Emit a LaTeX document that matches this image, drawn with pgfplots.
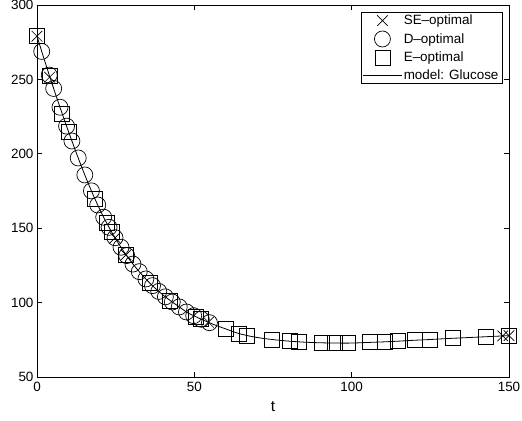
\documentclass[border=0pt]{standalone}
\usepackage{fontspec}
\setmainfont{Liberation Sans}
\usepackage{pgfplots}
\pgfplotsset{compat=1.18}
\begin{document}
\begin{tikzpicture}
\useasboundingbox (-37bp,-44bp) rectangle (485bp,377bp);
\begin{axis}[
  at={(0bp,0bp)}, anchor=south west,
  scale only axis, width=472bp, height=372bp,
  xmin=0, xmax=150, ymin=50, ymax=300,
  xtick={0,50,100,150}, ytick={50,100,150,200,250,300},
  xtick pos=both, ytick pos=both,
  tick align=inside, major tick length=5bp,
  axis line style={line width=0.8bp},
  every tick/.style={black, line width=0.6bp},
  tick label style={font=\fontsize{13.5}{15}\selectfont},
  xticklabel style={yshift=-1.5bp},
  /pgf/number format/assume math mode=true,
  xlabel={t}, xlabel style={font=\fontsize{15.5}{17}\selectfont, yshift=-3bp},
  clip=false,
  legend cell align=left,
  legend style={at={(rel axis cs:0.987,0.981)}, anchor=north east,
    font=\fontsize{13.5}{15}\selectfont, draw=black, line width=0.8bp,
    inner xsep=2bp, inner ysep=0.5bp, row sep=2.8bp},
  legend image code/.code={\draw[mark repeat=2,mark phase=2,line width=0.7bp,#1] plot coordinates {(0bp,0bp) (19bp,0bp) (38bp,0bp)};},
]
\addplot[only marks, mark=x, mark size=7.5bp, line width=0.7bp] coordinates {
(0,279) (4,251.5) (24.8,143.6) (28.3,132.1) (54.5,86.8) (148,77.6) (150,77.8)};
\addlegendentry{SE\textendash optimal}
\addplot[only marks, mark=o, mark size=8bp, line width=0.7bp] coordinates {
(1.5,268.8) (3.9,252.9) (5.3,243.9) (7.3,231.3) (9.4,218.6) (11.1,208.6)
(13.1,197.2) (15.2,185.8) (17.3,175.1) (19.3,165.6) (21.2,157.4) (22.9,150.6)
(24.8,143.6) (26.7,137.2) (28.5,131.6) (30.5,125.9) (32.5,120.8) (34.6,115.9)
(36.7,111.4) (38.7,107.5) (40.8,103.9) (43,100.4) (45.2,97.1) (47.5,93.7)
(49.8,91.2) (52.2,88.8) (54.8,86.5)};
\addlegendentry{D\textendash optimal}
\addplot[only marks, mark=square, mark size=7.5bp, line width=0.7bp] coordinates {
(0,279) (4,252.2) (8,227) (10,215) (18.4,169.8) (22.1,153.6) (23.7,147.5)
(28.3,132.1) (35.9,113) (42.3,101.5) (50.5,90.5) (52,89) (60.1,82.2)
(64.3,79.2) (66.8,77.9) (74.6,75.2) (80.5,74.0) (83.2,73.7) (90.5,73.0)
(94.7,72.8) (98.9,72.8) (105.8,73.3) (110.6,73.7) (114.8,74.1) (120.1,74.7)
(124.9,75.2) (132.1,76.0) (142.7,77.1) (150,77.8)};
\addlegendentry{E\textendash optimal}
\addplot[black, line width=0.8bp, smooth, tension=0.4] coordinates {
(0,279) (2,265.4) (4,252.2) (6,239.4) (8,227.0) (10,215.0) (12,203.4)
(14,192.2) (16,181.6) (18,171.6) (20,162.4) (22,154.0) (24,146.4) (26,139.4)
(28,133.0) (30,127.2) (32,122.0) (34,117.2) (36,112.8) (38,108.8) (40,105.2)
(42,101.9) (44,98.9) (46,95.9) (48,93.0) (50,91.0) (52,89.0) (54,87.2)
(56,85.4) (58,83.8) (60,82.3) (64,79.3) (68,77.3) (72,75.9) (76,74.9)
(80,74.1) (85,73.4) (90,73.0) (95,72.8) (100,72.8) (105,73.2) (110,73.6)
(115,74.1) (120,74.7) (125,75.2) (130,75.8) (135,76.3) (140,76.8) (145,77.3)
(150,77.8)};
\addlegendentry{model: Glucose}
\end{axis}
\end{tikzpicture}
\end{document}
